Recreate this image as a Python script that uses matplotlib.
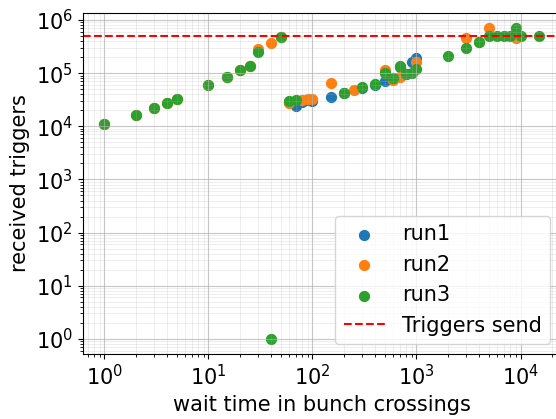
import matplotlib
matplotlib.use("Agg")
import matplotlib.pyplot as plt

# wait time (bunch crossings) and received triggers per run
run1_wait = [60, 70, 80, 90, 100, 150, 200, 300, 400, 500, 600, 700, 800, 900, 1000]
run1_trig = [2.8e4, 2.4e4, 2.9e4, 3.1e4, 3.0e4, 3.55e4, 4.3e4, 5.2e4, 6.0e4,
             7.2e4, 8.0e4, 1.3e5, 9.5e4, 1.6e5, 1.9e5]

run2_wait = [1, 2, 3, 4, 5, 10, 15, 20, 25, 30, 40, 50, 60, 80, 90, 100, 150,
             250, 500, 600, 700, 1000, 3000, 4000, 5000, 9000]
run2_trig = [1.1e4, 1.6e4, 2.2e4, 2.75e4, 3.2e4, 5.9e4, 8.5e4, 1.15e5, 1.38e5,
             2.9e5, 3.7e5, 4.7e5, 2.7e4, 3.1e4, 3.3e4, 3.3e4, 6.5e4,
             4.8e4, 1.15e5, 7.4e4, 8.5e4, 1.6e5, 4.5e5, 3.8e5, 7.0e5, 4.6e5]

run3_wait = [1, 2, 3, 4, 5, 10, 15, 20, 25, 30, 40, 50, 60, 70, 200, 300, 400,
             500, 600, 700, 800, 900, 1000, 2000, 3000, 4000, 5000, 6000, 7000,
             8000, 9000, 10000, 15000]
run3_trig = [1.1e4, 1.6e4, 2.2e4, 2.75e4, 3.2e4, 5.9e4, 8.5e4, 1.15e5, 1.38e5,
             2.46e5, 1, 4.7e5, 3.0e4, 3.1e4, 4.3e4, 5.4e4, 6.2e4,
             1.0e5, 8.1e4, 1.38e5, 9.6e4, 1.0e5, 1.19e5, 2.07e5, 3.0e5, 3.9e5,
             4.9e5, 5.0e5, 5.0e5, 5.0e5, 7.0e5, 5.0e5, 5.0e5]

triggers_send = 5e5

fig = plt.figure(figsize=(5.56, 4.19), dpi=100)
ax = fig.add_axes([0.1487, 0.1544, 0.8595, 0.8153])

ax.scatter(run1_wait, run1_trig, s=50, label="run1")
ax.scatter(run2_wait, run2_trig, s=50, label="run2")
ax.scatter(run3_wait, run3_trig, s=50, label="run3")
ax.axhline(triggers_send, color="r", linestyle="--", label="Triggers send")

ax.set_xscale("log")
ax.set_yscale("log")
ax.grid(which="major", alpha=0.7)
ax.grid(which="minor", alpha=0.25, linewidth=0.6)
ax.tick_params(labelsize=15)

ax.set_xlabel("wait time in bunch crossings", fontsize=15)
ax.set_ylabel("received triggers", fontsize=15)
ax.legend(loc="lower right", fontsize=15)

fig.savefig("out.png", dpi=100)
